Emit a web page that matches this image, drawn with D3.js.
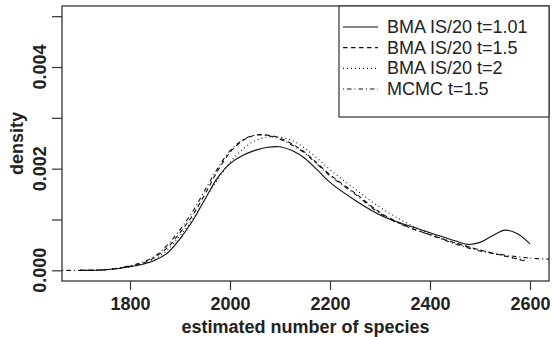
<!DOCTYPE html>
<html>
<head>
<meta charset="utf-8">
<script src="https://cdn.jsdelivr.net/npm/d3@7"></script>
<style>
  html, body { margin: 0; padding: 0; background: #fff; }
  svg text { font-family: "Liberation Sans", Arial, Helvetica, sans-serif; fill: #222; }
</style>
</head>
<body>
<svg id="chart"></svg>
<script>
// data
const xTicks = [1800, 2000, 2200, 2400, 2600];
const yTicks = [0, 0.001, 0.002, 0.003, 0.004, 0.005];
const yTickLabels = ['0.000', '', '0.002', '', '0.004', ''];

const seriesNames = ['BMA IS/20 t=1.01', 'BMA IS/20 t=1.5', 'BMA IS/20 t=2', 'MCMC t=1.5'];

const xA = [1700, 1750, 1800, 1825, 1850, 1875, 1900, 1925, 1950, 1975, 2000, 2025, 2050, 2075, 2100, 2125, 2150, 2175, 2200, 2250, 2300, 2350, 2400, 2450, 2475, 2500, 2525, 2550, 2575, 2600];
const yA = [0, 0.00001, 0.00007, 0.00012, 0.0002, 0.00034, 0.00062, 0.00097, 0.0014, 0.00182, 0.0021, 0.00226, 0.00236, 0.00242, 0.00243, 0.00235, 0.0022, 0.00197, 0.00173, 0.00138, 0.00109, 0.0009, 0.00074, 0.00058, 0.00051, 0.00055, 0.00068, 0.00079, 0.00072, 0.00052];

const xB = [1700, 1750, 1800, 1825, 1850, 1875, 1900, 1925, 1950, 1975, 2000, 2025, 2050, 2075, 2100, 2125, 2150, 2175, 2200, 2250, 2300, 2350, 2400, 2450, 2500, 2550, 2595];
const yB = [0, 0.00001, 0.00008, 0.00014, 0.00026, 0.00045, 0.00074, 0.00108, 0.0015, 0.00195, 0.00232, 0.00255, 0.00266, 0.00266, 0.0026, 0.00248, 0.00232, 0.0021, 0.00188, 0.00152, 0.00114, 0.00088, 0.0007, 0.00054, 0.0004, 0.00028, 0.00017];

const xC = [1700, 1750, 1800, 1825, 1850, 1875, 1900, 1925, 1950, 1975, 2000, 2025, 2050, 2075, 2100, 2125, 2150, 2175, 2200, 2250, 2300, 2350, 2400, 2450, 2500, 2550, 2590];
const yC = [0, 0.00001, 0.00007, 0.00012, 0.00022, 0.0004, 0.00068, 0.001, 0.0014, 0.00178, 0.00212, 0.00238, 0.00255, 0.00262, 0.00262, 0.00255, 0.0024, 0.0022, 0.00198, 0.0016, 0.00124, 0.00095, 0.00072, 0.00054, 0.0004, 0.00028, 0.0002];

const xD = [1665, 1700, 1750, 1800, 1825, 1850, 1875, 1900, 1925, 1950, 1975, 2000, 2025, 2050, 2075, 2100, 2125, 2150, 2175, 2200, 2250, 2300, 2350, 2400, 2450, 2500, 2550, 2600, 2640];
const yD = [0, 0, 0.00001, 0.00009, 0.00016, 0.00028, 0.0005, 0.0008, 0.00115, 0.00158, 0.002, 0.00235, 0.00256, 0.00266, 0.00265, 0.00258, 0.00246, 0.0023, 0.00208, 0.00186, 0.0015, 0.00112, 0.00087, 0.0007, 0.00052, 0.00038, 0.0003, 0.00024, 0.00022];

const W = 552, H = 337;
const mLeft = 62, mRight = 549, mTop = 6, mBottom = 281;
const FS = 18;

const svg = d3.select('#chart').attr('width', W).attr('height', H);

const x = d3.scaleLinear().domain([1664, 2638]).range([mLeft, mRight]);
const y = d3.scaleLinear().domain([-0.00021, 0.0052]).range([mBottom, mTop]);

// curves
const series = [
  { xs: xA, ys: yA, dash: null },
  { xs: xB, ys: yB, dash: '4.5,3.5' },
  { xs: xC, ys: yC, dash: '1,3' },
  { xs: xD, ys: yD, dash: '1,3,4.5,3' }
];

const line = d3.line()
  .x(d => x(d[0]))
  .y(d => y(d[1]))
  .curve(d3.curveCatmullRom);

const g = svg.append('g');
g.append('clipPath').attr('id', 'clip')
  .append('rect').attr('x', mLeft).attr('y', mTop).attr('width', mRight - mLeft).attr('height', mBottom - mTop);

g.selectAll('path.curve').data(series).enter().append('path')
  .attr('class', 'curve')
  .attr('clip-path', 'url(#clip)')
  .attr('d', s => line(d3.zip(s.xs, s.ys)))
  .attr('fill', 'none')
  .attr('stroke', '#111')
  .attr('stroke-width', 1.1)
  .attr('stroke-dasharray', s => s.dash);

// x axis
const xAxis = svg.append('g')
  .attr('transform', `translate(0,${mBottom})`)
  .call(d3.axisBottom(x).tickValues(xTicks).tickSize(9).tickPadding(7).tickFormat(d3.format('d')));
xAxis.select('.domain').remove();
xAxis.selectAll('line').attr('stroke', '#333').attr('stroke-width', 1.2);
xAxis.selectAll('text')
  .attr('font-family', '"Liberation Sans", Arial, sans-serif')
  .attr('font-size', FS).attr('font-weight', 'bold').attr('fill', '#222');

// y axis
const yAxis = svg.append('g')
  .attr('transform', `translate(${mLeft},0)`)
  .call(d3.axisLeft(y).tickValues(yTicks).tickSize(10).tickFormat(''));
yAxis.select('.domain').remove();
yAxis.selectAll('line').attr('stroke', '#333').attr('stroke-width', 1.2);

svg.selectAll('text.ylab').data(yTicks).enter().append('text')
  .attr('class', 'ylab')
  .attr('transform', (d) => `translate(40,${y(d)}) rotate(-90)`)
  .attr('text-anchor', 'middle')
  .attr('dominant-baseline', 'central')
  .attr('font-size', FS).attr('font-weight', 'bold')
  .text((d, i) => yTickLabels[i]);

// frame
svg.append('rect')
  .attr('x', mLeft).attr('y', mTop).attr('width', mRight - mLeft).attr('height', mBottom - mTop)
  .attr('fill', 'none').attr('stroke', '#333').attr('stroke-width', 1.3);

// axis titles
svg.append('text')
  .attr('x', (mLeft + mRight) / 2).attr('y', 333)
  .attr('text-anchor', 'middle')
  .attr('font-size', FS).attr('font-weight', 'bold')
  .text('estimated number of species');

svg.append('text')
  .attr('transform', `translate(17,${(mTop + mBottom) / 2}) rotate(-90)`)
  .attr('text-anchor', 'middle')
  .attr('dominant-baseline', 'central')
  .attr('font-size', FS).attr('font-weight', 'bold')
  .text('density');

// legend
const lg = svg.append('g');
lg.append('rect')
  .attr('x', 339).attr('y', mTop).attr('width', mRight - 339).attr('height', 111)
  .attr('fill', '#fff').attr('stroke', '#333').attr('stroke-width', 1.2);

const rowY = d3.scalePoint().domain(d3.range(seriesNames.length)).range([27, 89]);
const items = lg.selectAll('g.item').data(seriesNames).enter().append('g').attr('class', 'item');
items.append('line')
  .attr('x1', 343).attr('x2', 378)
  .attr('y1', (d, i) => rowY(i)).attr('y2', (d, i) => rowY(i))
  .attr('stroke', '#111').attr('stroke-width', 1.1)
  .attr('stroke-dasharray', (d, i) => series[i].dash);
items.append('text')
  .attr('x', 387).attr('y', (d, i) => rowY(i))
  .attr('dominant-baseline', 'central')
  .attr('font-size', FS)
  .text(d => d);
</script>
</body>
</html>
